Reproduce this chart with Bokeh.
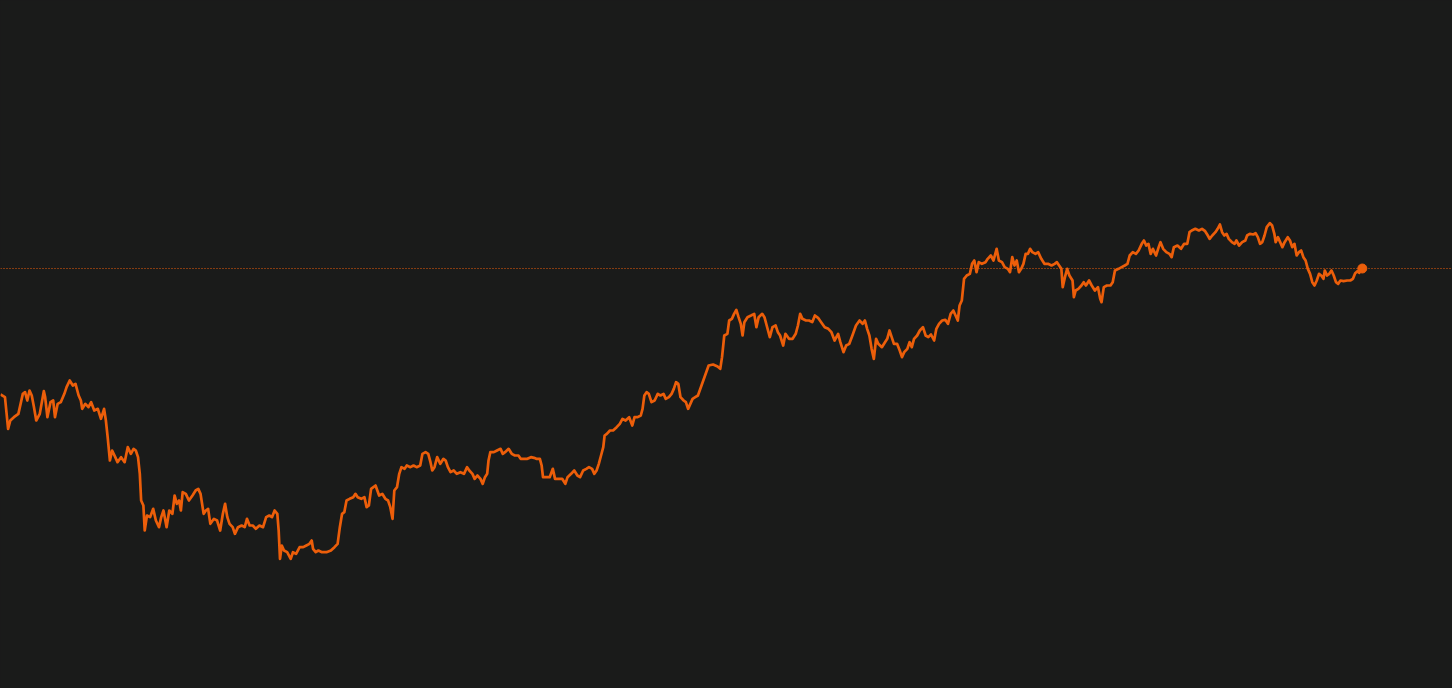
from bokeh.plotting import figure
from bokeh.models import Range1d, Span
from bokeh.embed import file_html
from bokeh.resources import INLINE

# Trading-day index and price readings
days = [0, 10, 17, 22, 30, 40, 45, 50, 55, 60, 65, 70, 75, 80, 88, 97, 100, 105, 112, 118, 122, 128, 135, 143, 148, 155, 162, 168, 175, 180, 183, 190, 197, 203, 210, 218, 225, 232, 236, 240, 245, 250, 257, 262, 270, 278, 285, 292, 298, 303, 308, 312, 315, 320, 323, 328, 335, 342, 348, 355, 360, 365, 372, 378, 385, 390, 395, 400, 404, 408, 415, 422, 430, 437, 443, 448, 455, 460, 465, 470, 478, 485, 492, 498, 503, 508, 513, 520, 525, 532, 540, 547, 552, 558, 565, 572, 580, 588, 595, 602, 608, 614, 620, 623, 626, 630, 635, 642, 650, 655, 662, 670, 678, 685, 692, 697, 700, 706, 712, 720, 730, 740, 748, 755, 760, 765, 770, 775, 782, 790, 795, 800, 808, 815, 820, 825, 830, 840, 848, 855, 862, 868, 873, 878, 882, 888, 893, 898, 905, 910, 918, 925, 932, 940, 945, 952, 958, 963, 967, 972, 978, 985, 992, 997, 1002, 1008, 1015, 1022, 1030, 1038, 1045, 1050, 1057, 1062, 1068, 1075, 1080, 1085, 1090, 1093, 1097, 1105, 1112, 1120, 1125, 1130, 1138, 1145, 1152, 1160, 1165, 1172, 1180, 1188, 1195, 1200, 1208, 1212, 1215, 1222, 1230, 1237, 1242, 1250, 1258, 1265, 1270, 1278, 1285, 1292, 1298, 1305, 1312, 1318, 1325, 1330, 1335, 1340, 1345, 1350, 1353, 1358, 1365, 1372, 1380, 1387, 1393, 1400, 1408, 1415, 1420, 1427, 1434, 1438, 1442, 1447, 1452, 1458, 1465, 1472, 1478, 1485, 1490, 1497, 1503, 1508, 1513, 1518, 1523, 1530, 1535, 1540, 1545, 1550, 1556, 1562,
        1586, 1596, 1606, 1612, 1616, 1621, 1628, 1632, 1638, 1643, 1648, 1653, 1658, 1662, 1666, 1673, 1681, 1688, 1693, 1698, 1706, 1711, 1716, 1723, 1729, 1736, 1741, 1746, 1753, 1758, 1766, 1774, 1781, 1786, 1791, 1796, 1804, 1811, 1818, 1824, 1831, 1838, 1846, 1854, 1861, 1868, 1876, 1881, 1888, 1894, 1901, 1908, 1916, 1924, 1931, 1936, 1941, 1946, 1951, 1956, 1961, 1966, 1974, 1981, 1986, 1991, 1996, 2001, 2008, 2014, 2019, 2024, 2031, 2036, 2041, 2046, 2053, 2059, 2066, 2072, 2078, 2084, 2091, 2096, 2102, 2109, 2116, 2122, 2128, 2134, 2139, 2144, 2148, 2153, 2158, 2164, 2171, 2176, 2181, 2186, 2191, 2198, 2206, 2211, 2218, 2224, 2231, 2236, 2243, 2249, 2256, 2261, 2266, 2271, 2276, 2281, 2286, 2291, 2296, 2301, 2306, 2311, 2318, 2324, 2331, 2338, 2346, 2354, 2361, 2366, 2371, 2376, 2379, 2384, 2389, 2394, 2401, 2404, 2408, 2414, 2421, 2426, 2431, 2438, 2444, 2451, 2458, 2463, 2466, 2471, 2478, 2486, 2491, 2496, 2504, 2511, 2518, 2524, 2529, 2536, 2543, 2549, 2556, 2561, 2566, 2571, 2576, 2581, 2588, 2594, 2598, 2604, 2611, 2618, 2623, 2628, 2636, 2644, 2651, 2658, 2663, 2668, 2676, 2684, 2691, 2698, 2704, 2708, 2714, 2721, 2726, 2731, 2736, 2741, 2746, 2751, 2758, 2764, 2768, 2774, 2781, 2788, 2792, 2798, 2806, 2811, 2816, 2821, 2826, 2831, 2836, 2843, 2848, 2853, 2856, 2861, 2866, 2871, 2876, 2883, 2888, 2893, 2898, 2903, 2908, 2913, 2918, 2923, 2928, 2933, 2938, 2943, 2948, 2953, 2958, 2963, 2966, 2971, 2976, 2981, 2986, 2991, 2996, 3001, 3008, 3016, 3023, 3029, 3034, 3039, 3043, 3046, 3050]

prices = [882, 874, 779, 804, 814, 824, 854, 884, 889, 864, 894, 879, 844, 804, 824, 892, 874, 814, 859, 864, 814, 854, 859, 884, 904, 924, 909, 914, 879, 864, 839, 854, 844, 859, 834, 839, 809, 839, 804, 754, 684, 714, 694, 679, 694, 679, 724, 704, 719, 714, 694, 644, 564, 549, 474, 519, 514, 539, 504, 484, 514, 534, 484, 534, 524, 579, 554, 564, 534, 589, 584, 564, 579, 594, 599, 584, 524, 534, 539, 494, 509, 504, 474, 524, 554, 514, 494, 484, 464, 484, 489, 484, 509, 489, 489, 479, 489, 484, 514, 519, 514, 534, 524, 474, 389, 429, 414, 409, 389, 409, 404, 424, 424, 429, 434, 444, 419, 409, 414, 409, 409, 414, 424, 434, 484, 524, 529, 564, 569, 574, 584, 574, 569, 574, 544, 549, 599, 609, 579, 584, 569, 564, 544, 509, 594, 604, 644, 664, 659, 669, 664, 669, 664, 669, 704, 709, 704, 679, 654, 664, 694, 674, 689, 684, 664, 649, 654, 644, 649, 644, 664, 654, 644, 629, 639, 629, 614, 634, 644, 684, 709, 709, 714, 719, 704, 709, 719, 704, 699, 699, 689, 689, 689, 694, 692, 689, 689, 669, 634, 634, 634, 659, 629, 629, 629, 614, 634, 644, 654, 639, 634, 654, 659, 664, 659, 644, 654, 674, 699, 724, 759, 764, 774, 774, 784, 794, 809, 804, 814, 789, 814, 814, 819, 839, 879, 889, 884, 859, 864, 884, 879, 884, 869, 874, 884, 899, 919, 914, 874, 864, 859, 839, 854, 869, 874, 879,
          969, 972, 966, 959, 994, 1059, 1064, 1104, 1109, 1124, 1136, 1114, 1094, 1059, 1099, 1114, 1119, 1124, 1084, 1114, 1124, 1114, 1089, 1054, 1084, 1089, 1069, 1059, 1029, 1064, 1049, 1049, 1064, 1089, 1124, 1109, 1104, 1104, 1099, 1119, 1112, 1099, 1084, 1079, 1069, 1044, 1064, 1039, 1009, 1029, 1034, 1059, 1089, 1104, 1094, 1104, 1079, 1059, 1019, 989, 1049, 1034, 1024, 1039, 1049, 1074, 1054, 1034, 1034, 1014, 994, 1009, 1019, 1039, 1024, 1049, 1059, 1074, 1084, 1059, 1054, 1062, 1044, 1079, 1094, 1104, 1106, 1094, 1124, 1134, 1119, 1104, 1149, 1164, 1229, 1239, 1244, 1274, 1284, 1249, 1279, 1274, 1279, 1289, 1299, 1284, 1319, 1284, 1279, 1264, 1259, 1249, 1294, 1269, 1284, 1249, 1259, 1274, 1304, 1304, 1319, 1309, 1304, 1309, 1289, 1274, 1274, 1269, 1274, 1279, 1269, 1259, 1204, 1234, 1259, 1239, 1224, 1174, 1194, 1199, 1209, 1219, 1209, 1224, 1209, 1194, 1204, 1169, 1159, 1204, 1209, 1209, 1219, 1254, 1259, 1264, 1269, 1274, 1299, 1309, 1304, 1314, 1334, 1344, 1329, 1334, 1304, 1319, 1299, 1324, 1339, 1319, 1309, 1304, 1294, 1324, 1329, 1319, 1334, 1334, 1369, 1374, 1379, 1374, 1379, 1372, 1359, 1349, 1359, 1369, 1379, 1392, 1369, 1359, 1364, 1349, 1339, 1334, 1344, 1329, 1339, 1344, 1359, 1364, 1362, 1366, 1354, 1334, 1339, 1359, 1384, 1396, 1389, 1364, 1339, 1354, 1339, 1324, 1339, 1354, 1344, 1324, 1334, 1299, 1309, 1314, 1294, 1284, 1259, 1244, 1219, 1209, 1224, 1244, 1239, 1229, 1254, 1239, 1244, 1254, 1239, 1219, 1214, 1224, 1222, 1224, 1224, 1229, 1246, 1252, 1247, 1256, 1260]

BG = "#1a1b1a"
ORANGE = "#ec5e0a"

p = figure(width=1452, height=688, output_backend="svg", toolbar_location=None,
           x_range=Range1d(0, 3252), y_range=Range1d(0, 2064), min_border=0)
p.background_fill_color = BG
p.border_fill_color = BG
p.outline_line_color = None
p.axis.visible = False
p.grid.visible = False

p.line(days, prices, line_color=ORANGE, line_width=2.7, line_join="round")

last_price = prices[-1]
p.add_layout(Span(location=last_price, dimension="width", line_color=ORANGE,
                  line_width=1, line_dash="1 2"))
p.scatter([days[-1]], [last_price], size=9, fill_color=ORANGE, line_color=ORANGE)

html = file_html(p, INLINE)
html = html.replace("</head>", "<style>html,body{margin:0;padding:0;background:%s;overflow:hidden;}</style></head>" % BG, 1)
open("out.html", "w").write(html)
